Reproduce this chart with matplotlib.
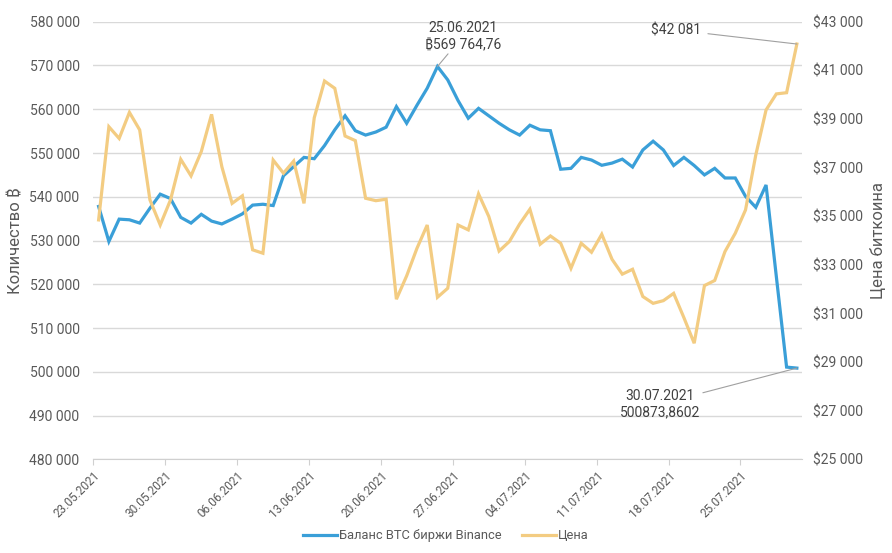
import pandas as pd
import matplotlib.pyplot as plt
import matplotlib.dates as mdates
import matplotlib.transforms as mtransforms
from matplotlib.ticker import FuncFormatter

plt.rcParams['font.family'] = ['Roboto', 'Noto Sans', 'Inter', 'Open Sans', 'Lato', 'DejaVu Sans']

# Data: daily values 23.05.2021 - 30.07.2021
dates = pd.date_range('2021-05-23', '2021-07-30', freq='D')
balance = [537800, 529800, 534900, 534750, 534000, 537400, 540600, 539600, 535300, 534000,
           536000, 534450, 533800, 534900, 536100, 538100, 538300, 538000, 544800, 546900,
           549000, 548700, 551700, 555300, 558500, 555100, 554100, 554800, 555900, 560600,
           556800, 560900, 564800, 569764.76, 566700, 562000, 557950, 560200, 558500, 556800,
           555300, 554100, 556350, 555300, 555100, 546300, 546500, 549000, 548400, 547200,
           547700, 548600, 546800, 550700, 552700, 550700, 547150, 549000, 547150, 545000,
           546500, 544300, 544300, 540100, 537600, 542700, 521800, 501100, 500873.8602]
price = [34850, 38680, 38200, 39270, 38550, 35670, 34640, 35670, 37340, 36660,
         37660, 39190, 37040, 35530, 35840, 33620, 33480, 37310, 36770, 37270,
         35530, 39050, 40560, 40260, 38300, 38110, 35740, 35640, 35700, 31590,
         32550, 33680, 34640, 31670, 32040, 34640, 34440, 35920, 34990, 33570,
         33960, 34680, 35290, 33850, 34190, 33890, 32860, 33890, 33520, 34260,
         33230, 32620, 32820, 31700, 31420, 31530, 31830, 30830, 29780, 32150,
         32360, 33550, 34300, 35260, 37520, 39370, 40030, 40080, 42081]
tick_dates = pd.date_range('2021-05-23', '2021-07-25', freq='7D')

blue = '#3a9fd8'
orange = '#f3cc82'
grey_text = '#595959'

# points sit in the middle of each day (Excel date axis style)
x = dates + pd.Timedelta(hours=12)

fig = plt.figure(figsize=(8.92, 5.53), dpi=100)
ax = fig.add_axes([0.1048, 0.1691, 0.7943, 0.7917])
ax2 = ax.twinx()

l1, = ax.plot(x, balance, color=blue, lw=2.3, solid_joinstyle='miter', label='Баланс BTC биржи Binance')
l2, = ax2.plot(x, price, color=orange, lw=2.3, solid_joinstyle='miter', label='Цена')

ax.set_xlim(pd.Timestamp('2021-05-23'), pd.Timestamp('2021-07-31'))
ax.set_ylim(480000, 580000)
ax2.set_ylim(25000, 43000)
ax.set_yticks(range(480000, 580001, 10000))
ax2.set_yticks(range(25000, 43001, 2000))

ax.yaxis.set_major_formatter(FuncFormatter(lambda v, p: f'{v:,.0f}'.replace(',', ' ')))
ax2.yaxis.set_major_formatter(FuncFormatter(lambda v, p: '$' + f'{v:,.0f}'.replace(',', ' ')))

ax.set_xticks(tick_dates)
ax.xaxis.set_major_formatter(mdates.DateFormatter('%d.%m.%Y'))
shift = mtransforms.ScaledTranslation(5 / 100, 0, fig.dpi_scale_trans)
for lbl in ax.get_xticklabels():
    lbl.set_rotation(45)
    lbl.set_ha('right')
    lbl.set_va('top')
    lbl.set_rotation_mode('anchor')
    lbl.set_transform(lbl.get_transform() + shift)

ax.grid(axis='y', color='#d9d9d9', lw=1)
ax.set_axisbelow(True)
for a in (ax, ax2):
    for s in ['top', 'right', 'left', 'bottom']:
        a.spines[s].set_visible(False)
ax.spines['bottom'].set_visible(True)
ax.spines['bottom'].set_color('#d0d0d0')

ax.tick_params(axis='y', length=0, pad=10, labelsize=10, labelcolor=grey_text)
ax2.tick_params(axis='y', length=0, pad=8, labelsize=10, labelcolor=grey_text)
ax.tick_params(axis='x', length=4, color='#d0d0d0', pad=3, labelsize=8.5, labelcolor=grey_text)

ax.set_ylabel('Количество ₿', fontsize=12, color=grey_text, labelpad=4)
ax2.set_ylabel('Цена биткоина', fontsize=12, color=grey_text, rotation=90, labelpad=5)

# annotations
ax.annotate('25.06.2021\n₿569 764,76', xy=(x[33], balance[33]), xytext=(463, 517),
            textcoords='figure pixels', fontsize=10, color='#404040', ha='center', va='center',
            arrowprops=dict(arrowstyle='-', color='#a0a0a0', lw=0.8, shrinkA=0, shrinkB=0))
ax2.annotate('$42 081', xy=(x[68], price[68]), xytext=(701, 523),
             textcoords='figure pixels', fontsize=10, color='#404040', ha='right', va='center',
             arrowprops=dict(arrowstyle='-', color='#a0a0a0', lw=0.8, shrinkA=3, shrinkB=0))
ax.annotate('30.07.2021\n500873,8602', xy=(x[68], balance[68]), xytext=(660, 149),
            textcoords='figure pixels', fontsize=10, color='#404040', ha='center', va='center',
            arrowprops=dict(arrowstyle='-', color='#a0a0a0', lw=0.8, shrinkA=0, shrinkB=0))

fig.legend(handles=[l1, l2], loc='center', bbox_to_anchor=(0.5, 0.031), ncol=2, frameon=False,
           fontsize=9.3, handlelength=2.6, columnspacing=1.6, handletextpad=0.15,
           labelcolor=grey_text)

fig.savefig('out.png', dpi=100)
